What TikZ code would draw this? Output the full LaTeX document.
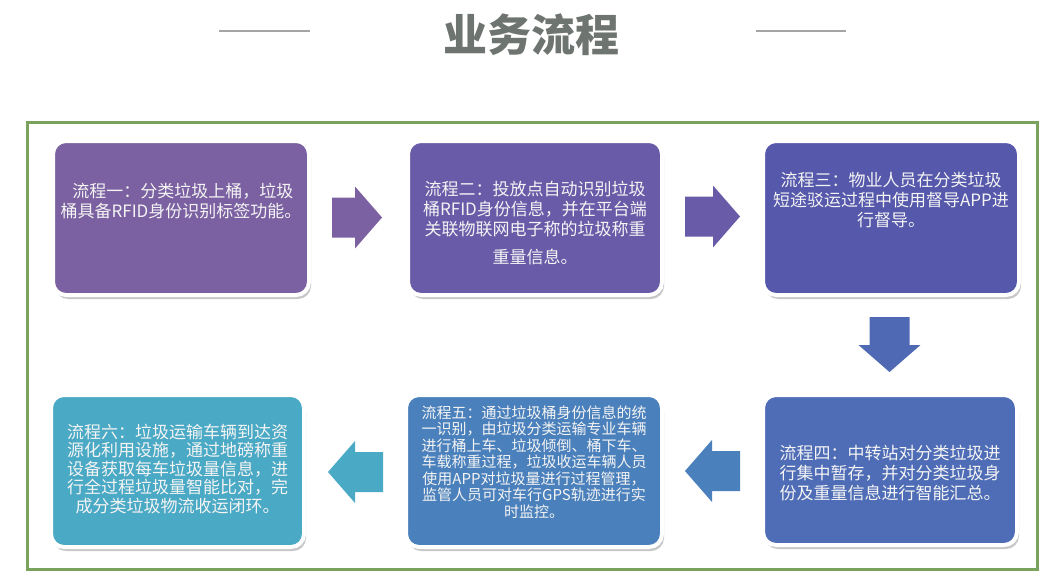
\documentclass[tikz,border=0pt]{standalone}
\usepackage{fontspec}
\newfontfamily\cjk{Noto Sans CJK SC}
\usetikzlibrary{shadows}
\definecolor{framegreen}{HTML}{79A35C}
\definecolor{titlegray}{HTML}{6E746F}
\definecolor{rulegray}{HTML}{A5A5A5}
\definecolor{cA}{HTML}{7B61A1}
\definecolor{cB}{HTML}{695BA8}
\definecolor{cC}{HTML}{5558AB}
\definecolor{cD}{HTML}{4F6DB6}
\definecolor{cE}{HTML}{4A80BB}
\definecolor{cF}{HTML}{4AA9C5}
\definecolor{txtwhite}{HTML}{F4F4F4}
\tikzset{
  box/.style={rectangle, rounded corners=13pt, draw=white, line width=4pt,
    drop shadow={shadow xshift=2pt, shadow yshift=-4pt, opacity=0.22, fill=black},
    inner sep=0pt},
  txt/.style={text=txtwhite, align=center, inner sep=0pt},
  big/.style={font=\cjk\fontsize{17}{20}\selectfont},
  small/.style={font=\cjk\fontsize{15}{16.5}\selectfont},
  rule/.style={draw=rulegray, line width=1.2pt},
  pics/blockarrow/.style n args={2}{code={
    \fill[#1] (-#2/2,-20) -- (#2/2-27,-20) -- (#2/2-27,-31) -- (#2/2,0)
      -- (#2/2-27,31) -- (#2/2-27,20) -- (-#2/2,20) -- cycle;
  }}
}
\begin{document}
\begin{tikzpicture}[x=1pt,y=-1pt]
\fill[white] (0,0) rectangle (1054,586);
\useasboundingbox (0,0) rectangle (1054,586);
% title
\node[font=\cjk\bfseries\fontsize{44}{50}\selectfont, text=titlegray, inner sep=0pt] (title) at (531,35) {业务流程};
\draw[rule] (219,31) -- (310,31);
\draw[rule] (756,31) -- (846,31);
% frame
\draw[framegreen, line width=3pt] (27,122) rectangle (1037,569);
% boxes
\node[box, fill=cA, minimum width=256pt, minimum height=154pt] (b1) at (181,218) {};
\node[box, fill=cB, minimum width=254pt, minimum height=154pt] (b2) at (535,218) {};
\node[box, fill=cC, minimum width=256pt, minimum height=154pt] (b3) at (891,218) {};
\node[box, fill=cD, minimum width=254pt, minimum height=150pt] (b4) at (890,470) {};
\node[box, fill=cE, minimum width=256pt, minimum height=152pt] (b5) at (534,471) {};
\node[box, fill=cF, minimum width=253pt, minimum height=152pt] (b6) at (177.5,471) {};
% texts
\node[txt, big] (t1) at (b1.center |- 0,201) {\ 流程一：分类垃圾上桶，垃圾\\桶具备RFID身份识别标签功能。};
\node[txt, big] (t2) at (b2.center |- 0,223) {流程二：投放点自动识别垃圾\\桶RFID身份信息，并在平台端\\关联物联网电子称的垃圾称重\\[8pt]重量信息。};
\node[txt, big] (t3) at (b3.center |- 0,200) {流程三：物业人员在分类垃圾\\短途驳运过程中使用督导APP进\\行督导。};
\node[txt, big] (t4) at (b4.center |- 0,473) {流程四：中转站对分类垃圾进\\行集中暂存，并对分类垃圾身\\份及重量信息进行智能汇总。};
\node[txt, small] (t5) at (b5.center |- 0,462) {流程五：通过垃圾桶身份信息的统\\一识别，由垃圾分类运输专业车辆\\进行桶上车、垃圾倾倒、桶下车、\\车载称重过程，垃圾收运车辆人员\\使用APP对垃圾量进行过程管理，\\监管人员可对车行GPS轨迹进行实\\时监控。};
\node[txt, font=\cjk\fontsize{17}{18.5}\selectfont] (t6) at (b6.center |- 0,469) {流程六：垃圾运输车辆到达资\\源化利用设施，通过地磅称重\\设备获取每车垃圾量信息，进\\行全过程垃圾量智能比对，完\\成分类垃圾物流收运闭环。};
% arrows
\pic (a1) at (357,217.5) {blockarrow={cA}{50}};
\pic (a2) at (712.5,216.5) {blockarrow={cB}{55}};
\pic[rotate=270] (a3) at (889.5,344.5) {blockarrow={cD!80!cC}{55}};
\pic[rotate=180] (a4) at (712.5,471) {blockarrow={cE}{55}};
\pic[rotate=180] (a5) at (355.5,472) {blockarrow={cF}{55}};
\end{tikzpicture}
\end{document}
